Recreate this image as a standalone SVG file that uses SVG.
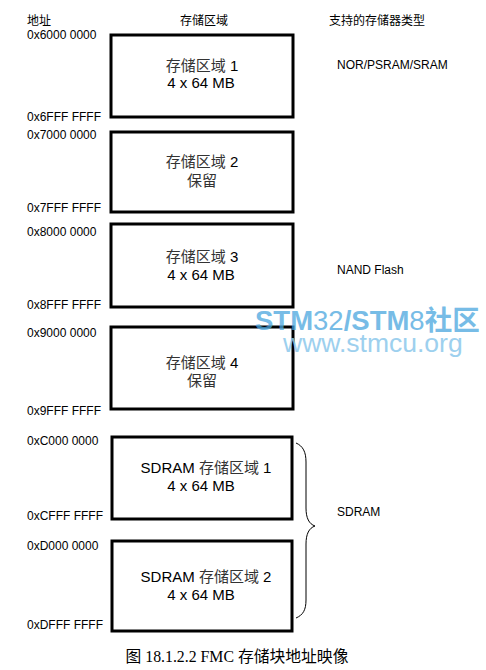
<svg xmlns="http://www.w3.org/2000/svg" width="486" height="670" viewBox="0 0 486 670">
<style>
.addr{font-family:"Liberation Sans","Noto Sans CJK SC",sans-serif;font-size:12px;fill:#000}
.hdr{font-family:"Liberation Sans","Noto Sans CJK SC",sans-serif;font-size:12px;fill:#000}
.lbl{font-family:"Liberation Sans","Noto Sans CJK SC",sans-serif;font-size:15px;fill:#000;text-anchor:middle}
.cjk{fill:#333}
.box{fill:#fff;stroke:#000;stroke-width:3}
.type{font-family:"Liberation Sans",sans-serif;font-size:12px;fill:#000}
.cap{font-family:"Liberation Serif","Noto Sans CJK SC",serif;font-size:15.8px;fill:#000;text-anchor:middle}
.wm{font-family:"Liberation Sans","Noto Sans CJK SC",sans-serif;fill:#4aa6de;opacity:0.75}
.wm2{font-family:"Liberation Sans",sans-serif;fill:#8cc8ec;opacity:0.85}
</style>
<rect width="486" height="670" fill="#fff"/>
<g id="headers">
<text class="hdr" x="27" y="25">地址</text>
<text class="hdr" x="204" y="25" text-anchor="middle">存储区域</text>
<text class="hdr" x="329" y="25">支持的存储器类型</text>
</g>
<g id="addresses">
<text class="addr" x="27" y="39">0x6000 0000</text>
<text class="addr" x="27" y="121">0x6FFF FFFF</text>
<text class="addr" x="27" y="139">0x7000 0000</text>
<text class="addr" x="27" y="212">0x7FFF FFFF</text>
<text class="addr" x="27" y="236">0x8000 0000</text>
<text class="addr" x="27" y="309">0x8FFF FFFF</text>
<text class="addr" x="27" y="337">0x9000 0000</text>
<text class="addr" x="27" y="415">0x9FFF FFFF</text>
<text class="addr" x="27" y="445">0xC000 0000</text>
<text class="addr" x="27" y="520">0xCFFF FFFF</text>
<text class="addr" x="27" y="550">0xD000 0000</text>
<text class="addr" x="27" y="629">0xDFFF FFFF</text>
</g>
<g id="bank1">
<rect class="box" x="111" y="35" width="182" height="82"/>
<text class="lbl" x="202" y="71"><tspan class="cjk">存储区域</tspan> 1</text>
<text class="lbl" x="201" y="88">4 x 64 MB</text>
</g>
<g id="bank2">
<rect class="box" x="111" y="132" width="182" height="80"/>
<text class="lbl" x="202" y="167"><tspan class="cjk">存储区域</tspan> 2</text>
<text class="lbl cjk" x="202" y="186">保留</text>
</g>
<g id="bank3">
<rect class="box" x="111" y="224" width="182" height="83"/>
<text class="lbl" x="202" y="262"><tspan class="cjk">存储区域</tspan> 3</text>
<text class="lbl" x="201" y="280">4 x 64 MB</text>
</g>
<g id="bank4">
<rect class="box" x="111" y="327" width="182" height="82"/>
<text class="lbl" x="202" y="368"><tspan class="cjk">存储区域</tspan> 4</text>
<text class="lbl cjk" x="202" y="386">保留</text>
</g>
<g id="sdram1">
<rect class="box" x="112" y="437" width="180" height="82"/>
<text class="lbl" x="206" y="473">SDRAM <tspan class="cjk">存储区域</tspan> 1</text>
<text class="lbl" x="201" y="491">4 x 64 MB</text>
</g>
<g id="sdram2">
<rect class="box" x="112" y="541" width="180" height="90"/>
<text class="lbl" x="206" y="582">SDRAM <tspan class="cjk">存储区域</tspan> 2</text>
<text class="lbl" x="201" y="600">4 x 64 MB</text>
</g>
<g id="types">
<text class="type" x="337" y="69">NOR/PSRAM/SRAM</text>
<text class="type" x="337" y="274">NAND Flash</text>
<text class="type" x="337" y="516">SDRAM</text>
</g>
<g id="connectors">
<path d="M296 443 C303 446 306 452 306 462 L306 508 C306 518 309 524 315 526 C309 528 306 534 306 544 L306 600 C306 610 303 615 296 618" fill="none" stroke="#000" stroke-width="1"/>
</g>
<g id="caption">
<text class="cap" x="237" y="662">图 18.1.2.2 FMC 存储块地址映像</text>
</g>
<g id="watermark">
<text class="wm" x="255" y="330" font-size="27.5"><tspan font-weight="bold">STM</tspan>32<tspan font-weight="bold">/STM</tspan>8<tspan font-weight="bold">社区</tspan></text>
<text class="wm2" x="283" y="352" font-size="26.5">www.stmcu.org</text>
</g>
</svg>
